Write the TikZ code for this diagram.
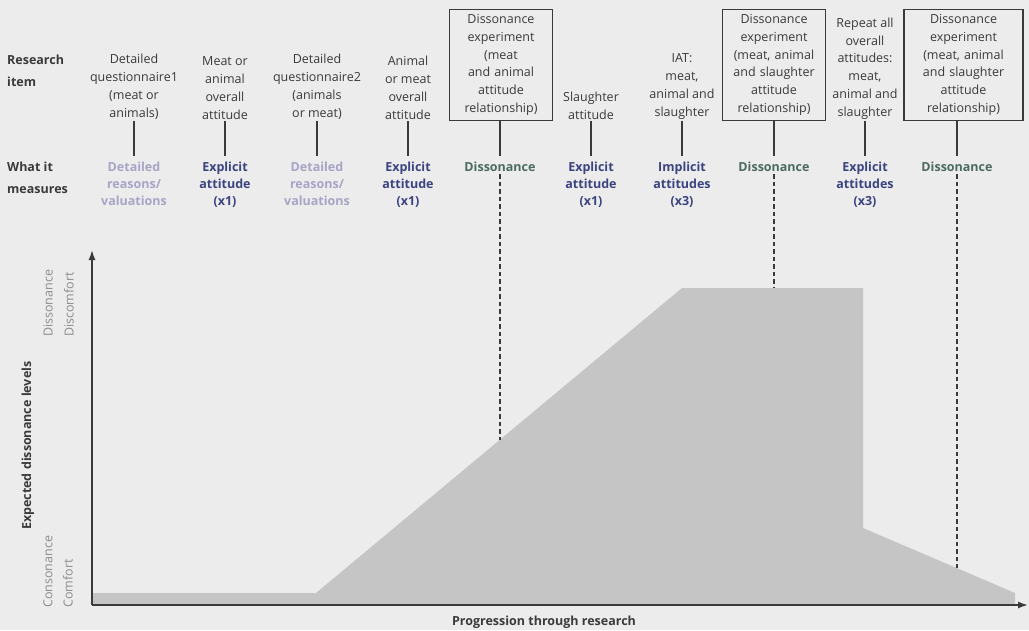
\documentclass[tikz,border=0pt]{standalone}
\usepackage{fontspec}
\setmainfont{Open Sans}
\usetikzlibrary{positioning,arrows.meta}
\definecolor{paper}{HTML}{ECECEC}
\definecolor{profile}{HTML}{C5C5C5}
\definecolor{ink}{HTML}{3A3A3A}
\definecolor{explicitc}{HTML}{3B4380}
\definecolor{detailc}{HTML}{A7A5C6}
\definecolor{dissc}{HTML}{4B6A62}
\definecolor{scalec}{HTML}{8C8C8C}
\tikzset{
  item/.style={align=center, font=\fontsize{12.5}{17.8}\selectfont, text=ink, inner sep=1.5pt, anchor=south},
  dbox/.style={item, draw=ink, line width=1.2pt, text width=97pt, minimum height=111pt, inner sep=3pt},
  meas/.style={align=center, font=\fontsize{12.5}{17}\selectfont\bfseries, anchor=north, inner sep=2pt},
  rowlabel/.style={align=left, font=\fontsize{12.5}{21.5}\selectfont\bfseries, text=ink, anchor=north west, inner sep=0pt},
  scale label/.style={rotate=90, anchor=west, font=\fontsize{12.5}{15}\selectfont, text=scalec, inner sep=0pt},
  link/.style={draw=ink, line width=1.3pt, shorten >=4pt},
  dlink/.style={draw=ink, line width=1.2pt, dash pattern=on 4.5pt off 3pt},
  axis/.style={draw=ink, line width=1.6pt, -{Latex[length=10pt,width=7pt]}}
}
\begin{document}
\begin{tikzpicture}[x=1pt,y=-1pt]
\useasboundingbox[fill=paper] (0,0) rectangle (1029,630);

% expected dissonance profile
\fill[profile] (92,593) -- (316,593) -- (682,288) -- (863,288) -- (863,528)
  -- (1015,593) -- (1015,605) -- (92,605) -- cycle;
\coordinate (p5) at (500,440);
\coordinate (p8) at (774,288);
\coordinate (p10) at (957,568);

% axes
\coordinate (origin) at (92,605);
\coordinate (ytop) at (92,250);
\coordinate (xend) at (1028,605);
\draw[axis] (origin) -- (ytop);
\draw[axis] (origin) -- (xend);
\node[font=\fontsize{12.5}{15}\selectfont\bfseries, text=ink] (xlab) at (544,622) {Progression through research};
\node[scale label, font=\fontsize{12.5}{15}\selectfont\bfseries, text=ink] (ylab) at (28,530) {Expected dissonance levels};
\node[scale label] (cons) at (48,608) {Consonance};
\node[scale label] (comf) at (68,608) {Comfort};
\node[scale label] (diss) at (48,337) {Dissonance};
\node[scale label] (disc) at (69,337) {Discomfort};

% row labels
\node[rowlabel] (ritem) at (7,55) {Research\\item};
\node[rowlabel] (rmeas) at (7,162) {What it\\measures};

% research items
\node[item] (r1) at (134,121) {Detailed\\questionnaire1\\(meat or\\animals)};
\node[item] (r2) at (225,121) {Meat or\\animal\\overall\\attitude};
\node[item] (r3) at (317,121) {Detailed\\questionnaire2\\(animals\\or meat)};
\node[item] (r4) at (408,121) {Animal\\or meat\\overall\\attitude};
\node[dbox] (r5) at (501,121) {Dissonance\\experiment\\(meat\\and animal\\attitude\\relationship)};
\node[item] (r6) at (591,121) {Slaughter\\attitude};
\node[item] (r7) at (682,121) {IAT:\\meat,\\animal and\\slaughter};
\node[dbox] (r8) at (774,121) {Dissonance\\experiment\\(meat, animal\\and slaughter\\attitude\\relationship)};
\node[item] (r9) at (865,121) {Repeat all\\overall\\attitudes:\\meat,\\animal and\\slaughter};
\node[dbox, text width=113pt] (r10) at (963.5,121) {Dissonance\\experiment\\(meat, animal\\and slaughter\\attitude\\relationship)};

% what it measures
\node[meas, text=detailc] (m1) at (134,160) {Detailed\\reasons/\\valuations};
\node[meas, text=explicitc] (m2) at (225,160) {Explicit\\attitude\\(x1)};
\node[meas, text=detailc] (m3) at (317,160) {Detailed\\reasons/\\valuations};
\node[meas, text=explicitc] (m4) at (408,160) {Explicit\\attitude\\(x1)};
\node[meas, text=dissc] (m5) at (500,160) {Dissonance};
\node[meas, text=explicitc] (m6) at (591,160) {Explicit\\attitude\\(x1)};
\node[meas, text=explicitc] (m7) at (682,160) {Implicit\\attitudes\\(x3)};
\node[meas, text=dissc] (m8) at (774,160) {Dissonance};
\node[meas, text=explicitc] (m9) at (865,160) {Explicit\\attitudes\\(x3)};
\node[meas, text=dissc] (m10) at (957,160) {Dissonance};

% connectors
\draw[link] (r1.south) -- (m1.north);
\draw[link] (r2.south) -- (m2.north);
\draw[link] (r3.south) -- (m3.north);
\draw[link] (r4.south) -- (m4.north);
\draw[link] (r5.south -| m5) -- (m5.north);
\draw[link] (r6.south) -- (m6.north);
\draw[link] (r7.south) -- (m7.north);
\draw[link] (r8.south) -- (m8.north);
\draw[link] (r9.south) -- (m9.north);
\draw[link] (r10.south -| m10) -- (m10.north);
\draw[dlink] (m5.south) -- (p5);
\draw[dlink] (m8.south) -- (p8);
\draw[dlink] (m10.south) -- (p10);
\end{tikzpicture}
\end{document}
